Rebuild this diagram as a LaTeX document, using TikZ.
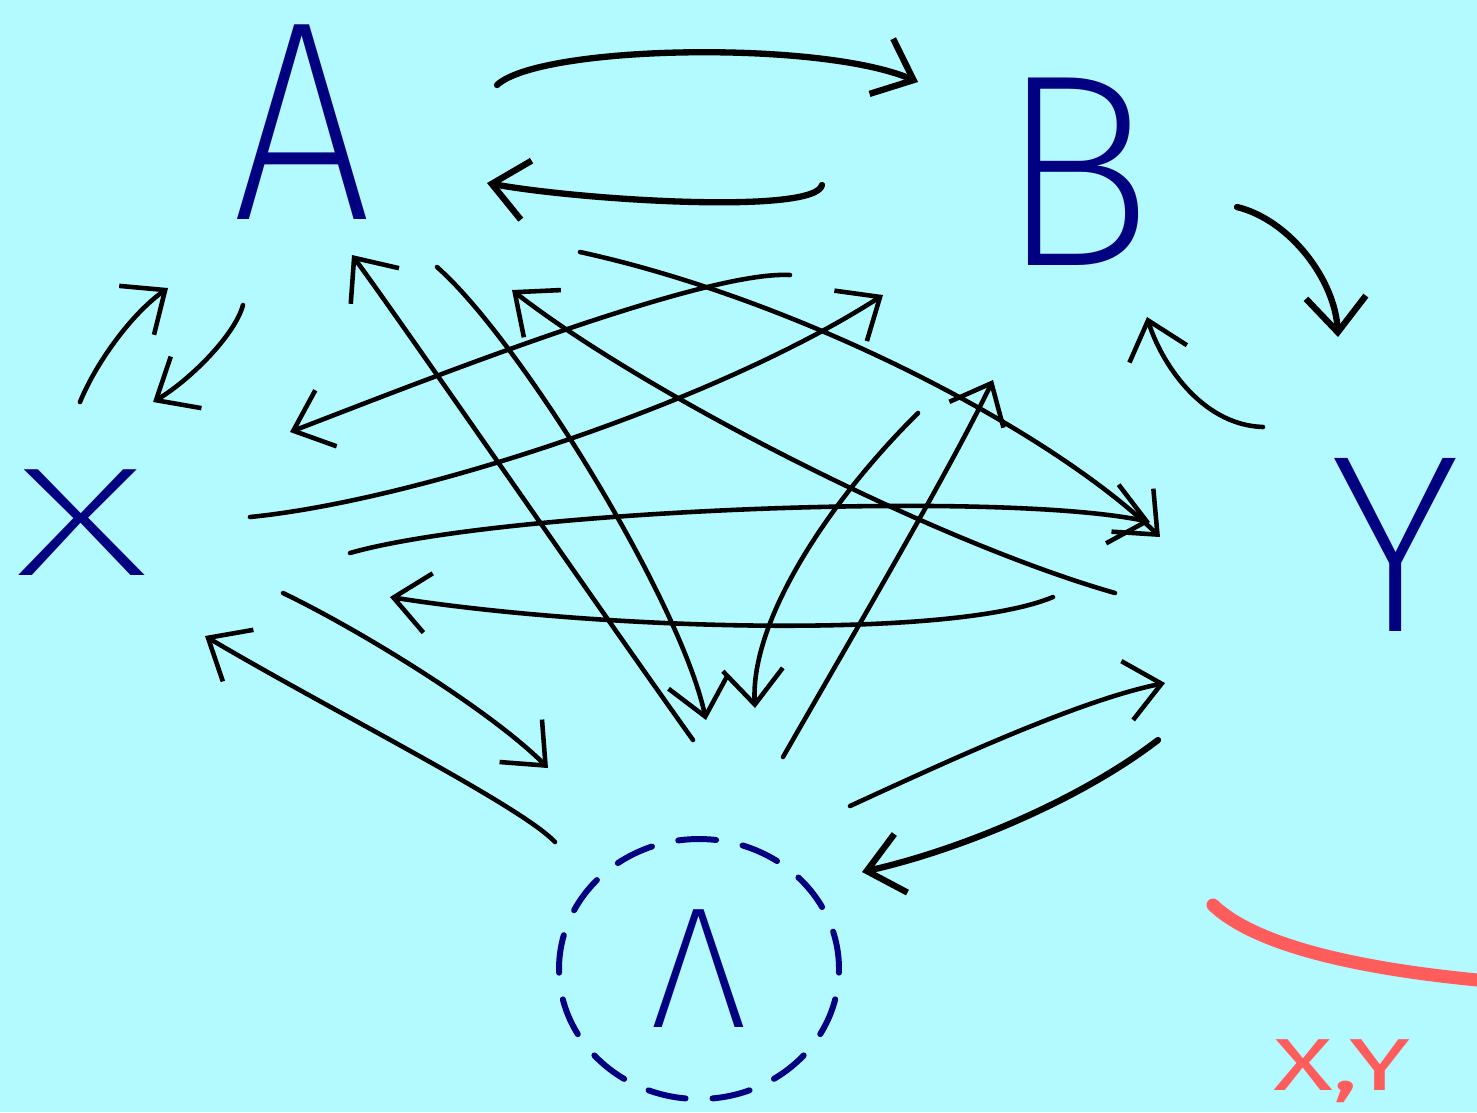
\documentclass[tikz,border=0pt]{standalone}
\usepackage{fontspec}
\usepackage{tikz}
\usetikzlibrary{arrows.meta,shapes.geometric}
\usepackage{xcolor}

\IfFontExistsTF{Fira Sans ExtraLight}
  {\newfontfamily\handfont{Fira Sans ExtraLight}}
  {\newfontfamily\handfont{Fira Sans Thin}}
\newfontfamily\redfont{Fira Sans}

\definecolor{sky}{RGB}{178,250,255}
\definecolor{ink}{RGB}{0,0,128}
\definecolor{chalk}{RGB}{255,92,92}

\begin{document}
\begin{tikzpicture}[x=0.1mm,y=-0.1mm,>={Straight Barb[length=3.5mm,width=6mm]},
    line cap=round,line join=round,
    letter/.style={text=ink,inner sep=0pt,font=\handfont\fontsize{#1}{#1}\selectfont},
    arr/.style={->,line width=1.3pt},
    heavy arr/.style={->,line width=1.8pt}]
  \useasboundingbox (0,0) rectangle (1477,1112);
  \clip (0,0) rectangle (1477,1112);
  \fill[sky] (0,0) rectangle (1477,1112);

  \node[letter=81pt,xscale=0.87] (A) at (302,122) {A};
  \node[letter=78pt,xscale=0.95] (B) at (1076,172) {B};
  \node[letter=44pt,xscale=1.7] (X) at (82,523) {X};
  \node[letter=72pt] (Y) at (1395,545) {Y};
  \node[letter=49pt,draw=ink,line width=1.7pt,dash pattern=on 3.8mm off 2.7mm,
        ellipse,minimum width=28mm,minimum height=26mm] (L) at (699,969) {Λ};

  \draw[heavy arr] ([shift={(195,-37)}]A.center) .. controls +(43,-40) and +(-98,-42) .. ([shift={(-158,-90)}]B.center);
  \draw[heavy arr] ([shift={(-254,13)}]B.center) .. controls +(-7,30) and +(93,17) .. ([shift={(185,61)}]A.center);
  \draw[heavy arr] ([shift={(161,35)}]B.center) .. controls +(53,13) and +(-3,-57) .. ([shift={(-57,-208)}]Y.center);
  \draw[arr] ([shift={(-132,-118)}]Y.center) .. controls +(-63,-2) and +(13,43) .. ([shift={(71,145)}]B.center);
  \draw[arr] ([shift={(-2,-121)}]X.center) .. controls +(15,-37) and +(-38,27) .. ([shift={(-134,166)}]A.center);
  \draw[arr] ([shift={(-59,183)}]A.center) .. controls +(-8,30) and +(37,-22) .. ([shift={(71,-121)}]X.center);
  \draw[arr] ([shift={(201,70)}]X.center) .. controls +(77,37) and +(-58,-58) .. ([shift={(-151,-201)}]L.center);
  \draw[arr] ([shift={(-144,-127)}]L.center) .. controls +(-35,-37) and +(125,74) .. ([shift={(123,113)}]X.center);
  \draw[arr] ([shift={(151,-163)}]L.center) .. controls +(100,-46) and +(-85,17) .. ([shift={(-230,138)}]Y.center);
  \draw[heavy arr] ([shift={(-237,195)}]Y.center) .. controls +(-78,60) and +(98,-22) .. ([shift={(163,-97)}]L.center);
  \draw[arr] ([shift={(135,145)}]A.center) .. controls +(83,73) and +(-26,-120) .. ([shift={(7,-249)}]L.center);
  \draw[arr] ([shift={(-6,-229)}]L.center) .. controls +(-93,-130) and +(48,65) .. ([shift={(50,133)}]A.center);
  \draw[arr] ([shift={(-158,241)}]B.center) .. controls +(-88,87) and +(-5,-88) .. ([shift={(56,-261)}]L.center);
  \draw[arr] ([shift={(84,-212)}]L.center) .. controls +(67,-117) and +(-43,90) .. ([shift={(-83,208)}]B.center);
  \draw[arr] ([shift={(168,-6)}]X.center) .. controls +(170,-17) and +(-163,105) .. ([shift={(-193,123)}]B.center);
  \draw[arr] ([shift={(-286,103)}]B.center) .. controls +(-90,-5) and +(110,-42) .. ([shift={(208,-91)}]X.center);
  \draw[arr] ([shift={(278,130)}]A.center) .. controls +(220,48) and +(-110,-107) .. ([shift={(-235,-8)}]Y.center);
  \draw[arr] ([shift={(-280,48)}]Y.center) .. controls +(-185,-53) and +(128,100) .. ([shift={(210,168)}]A.center);
  \draw[arr] ([shift={(268,30)}]X.center) .. controls +(150,-43) and +(-150,-32) .. ([shift={(-245,-23)}]Y.center);
  \draw[arr] ([shift={(-342,52)}]Y.center) .. controls +(-103,43) and +(210,33) .. ([shift={(308,74)}]X.center);

  \draw[chalk,line width=3.7pt] (1213,905) .. controls (1260,950) and (1380,972) .. (1500,982);
  \node[text=chalk,inner sep=0pt,anchor=base west,xscale=1.5,font=\redfont\fontsize{21pt}{21pt}\selectfont] (xy) at (1272,1090) {X,Y};
\end{tikzpicture}
\end{document}
